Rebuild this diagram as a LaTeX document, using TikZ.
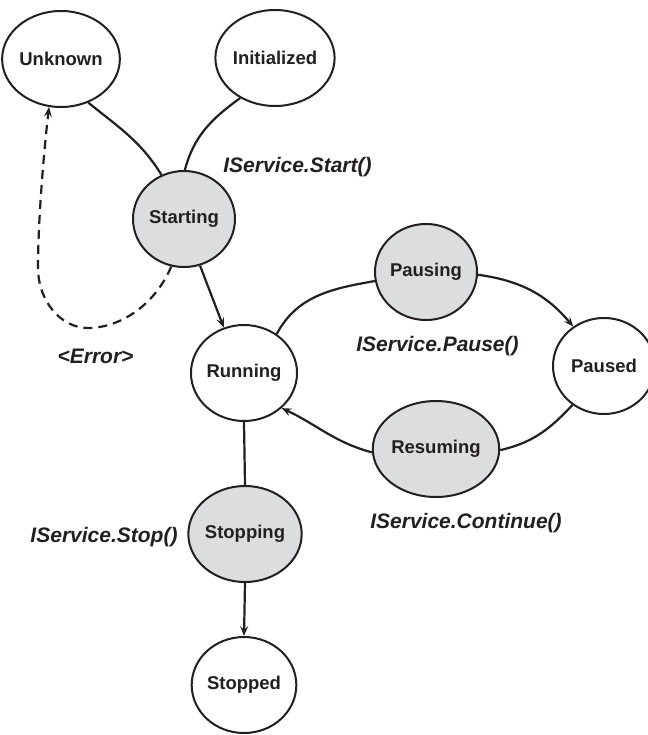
\documentclass[tikz,border=0pt]{standalone}
\usepackage{fontspec}
\setmainfont{Liberation Sans}
\usetikzlibrary{arrows.meta,shapes.geometric}
\definecolor{ink}{HTML}{231F20}
\definecolor{shade}{HTML}{DCDDDE}
\begin{document}
\begin{tikzpicture}[x=1pt,y=-1pt,
  state/.style={ellipse, draw=ink, line width=2pt, minimum width=102pt, minimum height=96pt, inner sep=0pt, font=\fontsize{18.5}{22}\selectfont\bfseries, text=ink},
  busy/.style={state, fill=shade},
  idle/.style={state, fill=white},
  conn/.style={draw=ink, line width=2.2pt},
  arr/.style={conn, -{Stealth[length=10pt,width=8pt,inset=4pt]}},
  dasharr/.style={arr, dash pattern=on 9pt off 6pt},
  lbl/.style={font=\fontsize{21}{25}\selectfont\bfseries\itshape, text=ink, inner sep=0pt}]
\useasboundingbox (0,0) rectangle (647,735);

% connectors first (under nodes)
\node[idle] (unknown) at (61,59) {Unknown};
\node[idle] (init) at (275,58) {Initialized};
\node[busy] (starting) at (184,219) {Starting};
\node[idle] (running) at (244,373) {Running};
\node[busy] (pausing) at (426,272) {Pausing};
\node[idle] (paused) at (604,366) {Paused};
\node[busy] (resuming) at (436,449) {Resuming};
\node[busy] (stopping) at (245,534) {Stopping};
\node[idle] (stopped) at (244,685) {Stopped};

\coordinate (e1) at (88,328);
\coordinate (e2) at (38,268);

\draw[conn] (unknown.-58) to[out=-39, in=122] (starting.117);
\draw[conn] (init.-131) to[out=-144, in=75] (starting.89);
\draw[arr] (starting.-71) -- (running.114);
\draw[dasharr] (starting.255) .. controls (155,305) and (120,328) .. (e1)
   .. controls (60,328) and (38,300) .. (e2)
   .. controls (38,220) and (44,150) .. (unknown.256);
\draw[conn] (running.50) to[out=62, in=190] (pausing.190);
\draw[arr] (pausing.-3) to[out=-8, in=130] (paused.128);
\draw[conn] (paused.231) to[out=227, in=13] (resuming.-1);
\draw[arr] (resuming.183) to[out=165, in=-25] (running.-43);
\draw[conn] (running.south) -- (stopping.north);
\draw[arr] (stopping.south) -- (stopped.north);

\node[lbl] (lstart) at (297.5,167) {IService.Start()};
\node[lbl] (lpause) at (437.5,346) {IService.Pause()};
\node[lbl] (lerr) at (95.5,356) {<Error>};
\node[lbl] (lstop) at (104,537) {IService.Stop()};
\node[lbl] (lcont) at (466,523) {IService.Continue()};
\end{tikzpicture}
\end{document}
